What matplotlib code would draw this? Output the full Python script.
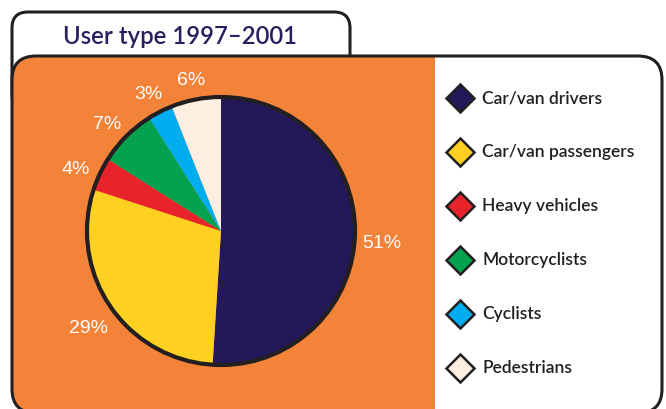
import numpy as np
import matplotlib
matplotlib.use("Agg")
import matplotlib.pyplot as plt
from matplotlib.patches import FancyBboxPatch, Rectangle, Circle

# data
labels = ["Car/van drivers", "Car/van passengers", "Heavy vehicles",
          "Motorcyclists", "Cyclists", "Pedestrians"]
shares = [51, 29, 4, 7, 3, 6]
colors = ["#22185a", "#fdd021", "#e9232b", "#04a24f", "#00adee", "#fdeee2"]
title = "User type 1997\u20132001"

W, H = 666, 409
fig = plt.figure(figsize=(W / 100, H / 100), dpi=100)
ax = fig.add_axes([0, 0, 1, 1])
ax.set_xlim(0, W)
ax.set_ylim(0, H)
ax.axis("off")

dark = "#231f20"
orange = "#f4833a"

# title tab, then main body (bottom runs off the picture)
tab = FancyBboxPatch((12, H - 110), 338, 98, boxstyle="round,pad=0,rounding_size=16",
                     fc="white", ec=dark, lw=2.2, zorder=1)
ax.add_patch(tab)
body_box = dict(xy=(12, -4), width=650, height=H - 56 + 4,
                boxstyle="round,pad=0,rounding_size=24")
body = FancyBboxPatch(fc="white", ec="none", lw=0, zorder=2, **body_box)
ax.add_patch(body)
panel = Rectangle((0, -10), 435, H + 10, fc=orange, ec="none", zorder=3)
ax.add_patch(panel)
panel.set_clip_path(body)
outline = FancyBboxPatch(fc="none", ec=dark, lw=2.2, zorder=6, **body_box)
ax.add_patch(outline)

ax.text(180, H - 36, title, ha="center", va="center", fontsize=17.2,
        color="#2a1f5e", family="Lato", fontweight="semibold", zorder=7)

# pie
cx, cy, R = 221, H - 231, 134
wedges, texts, autotexts = ax.pie(shares, colors=colors, startangle=90, counterclock=False,
                                  center=(cx, cy), radius=R, autopct="%d%%", pctdistance=1.2,
                                  wedgeprops=dict(lw=0),
                                  textprops=dict(color="white", fontsize=14, family="Liberation Sans"))
for w in wedges:
    w.set_zorder(4)
for t in autotexts:
    x, y = t.get_position()
    t.set_position((x, y - 7))
    t.set_zorder(7)
ax.add_patch(Circle((cx, cy), R, fc="none", ec=dark, lw=3, zorder=5))
ax.set_xlim(0, W)
ax.set_ylim(0, H)
ax.set_aspect("auto")

# legend
for i, (lab, c) in enumerate(zip(labels, colors)):
    y = H - (98 + i * 54)
    ax.plot(460, y, marker="D", ms=14, mfc=c, mec=dark, mew=1.8, zorder=7)
    ax.text(482, y, lab, ha="left", va="center", fontsize=12.5, color=dark,
            family="Lato", fontweight="semibold", zorder=7)

fig.savefig("out.png", dpi=100)
